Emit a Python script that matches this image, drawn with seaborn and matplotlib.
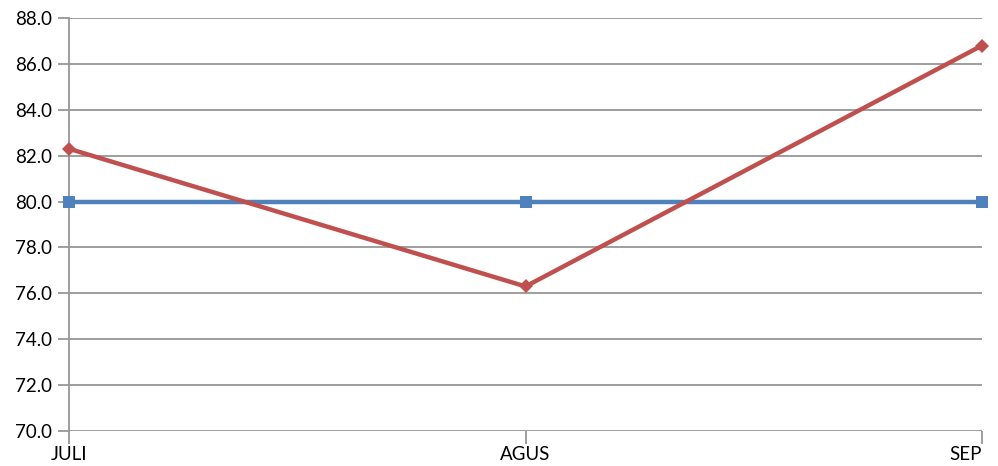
import matplotlib
matplotlib.use("Agg")
import matplotlib.pyplot as plt
import pandas as pd
import seaborn as sns

months = ["JULI", "AGUS", "SEP"]
target = [80.0, 80.0, 80.0]
actual = [82.3, 76.3, 86.8]

sns.set_style("white")
plt.rcParams["font.family"] = ["Lato", "DejaVu Sans"]

df = pd.DataFrame({
    "Bulan": months * 2,
    "Nilai": target + actual,
    "Seri": ["Target"] * 3 + ["Realisasi"] * 3,
})

fig = plt.figure(figsize=(9.98, 4.66), dpi=100)
ax = fig.add_axes([69 / 998, 35 / 466, 913 / 998, 413 / 466])

sns.lineplot(data=df, x="Bulan", y="Nilai", hue="Seri", style="Seri",
             palette={"Target": "#4F81BD", "Realisasi": "#C0504D"},
             markers={"Target": "s", "Realisasi": "D"},
             dashes=False, linewidth=3.2, markersize=8.5,
             markeredgewidth=0, legend=False, ax=ax, zorder=3)

# realisasi diamond a bit smaller, markers not clipped at the edges
for line in ax.get_lines():
    line.set_clip_on(False)
    if line.get_marker() == "D":
        line.set_markersize(7)

ax.set_xlim(0, 2)
ax.set_ylim(70, 88)
ax.set_yticks([70 + 2 * i for i in range(10)])
ax.set_yticklabels([f"{70 + 2 * i:.1f}" for i in range(10)])
ax.set_xlabel("")
ax.set_ylabel("")

ax.grid(axis="y", color="#969696", linewidth=1.3)
ax.grid(axis="x", visible=False)
for s in ["top", "right", "bottom"]:
    ax.spines[s].set_visible(False)
ax.spines["left"].set_color("#969696")
ax.spines["left"].set_linewidth(1.3)

ax.tick_params(axis="y", length=8, width=1.3, color="#969696", labelsize=13.5,
               labelcolor="black", pad=4, left=True)
ax.tick_params(axis="x", length=9, width=1.3, color="#969696", labelsize=13.5,
               labelcolor="black", pad=2, bottom=True)
labels = ax.get_xticklabels()
labels[-1].set_ha("right")
labels[0].set_ha("center")

fig.savefig("out.png", dpi=100)
